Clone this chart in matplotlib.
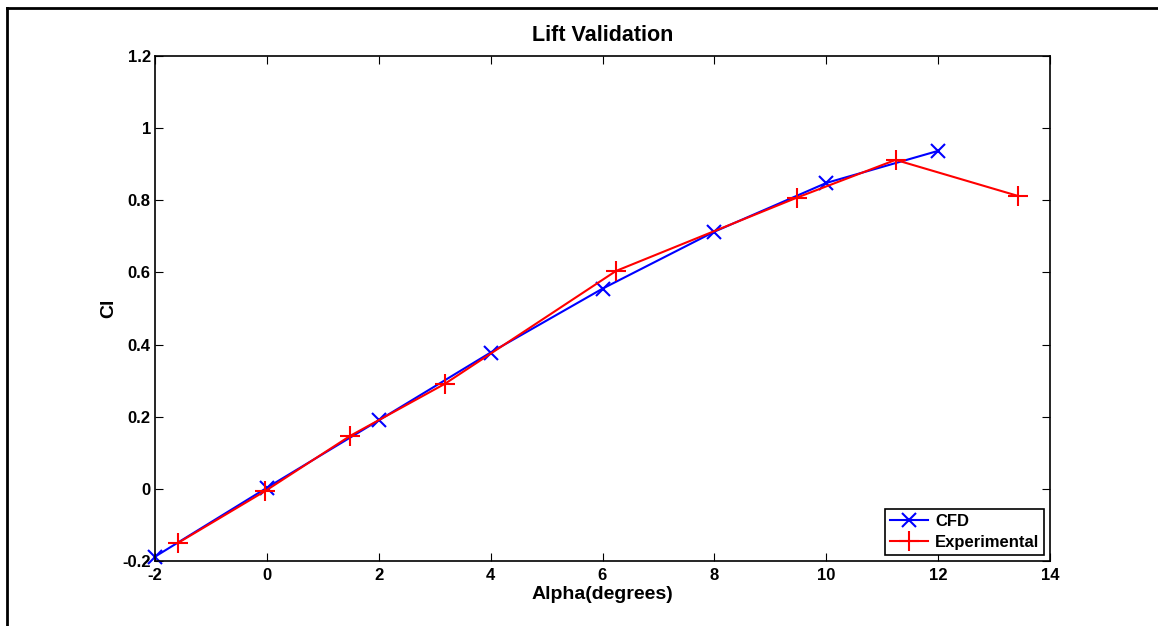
import matplotlib
matplotlib.use("Agg")
import matplotlib.pyplot as plt
from matplotlib.lines import Line2D

plt.rcParams['font.family'] = ['Liberation Sans', 'DejaVu Sans']
plt.rcParams['font.weight'] = 'bold'

# CFD results
alpha_cfd = [-2, 0, 2, 4, 6, 8, 10, 12]
cl_cfd = [-0.188, 0.003, 0.19, 0.378, 0.555, 0.713, 0.848, 0.937]

# experimental data
alpha_exp = [-1.59, -0.03, 1.49, 3.18, 6.24, 9.47, 11.24, 13.43]
cl_exp = [-0.15, -0.006, 0.147, 0.291, 0.604, 0.807, 0.912, 0.812]

xticks = [-2, 0, 2, 4, 6, 8, 10, 12, 14]
yticks = [-0.2, 0, 0.2, 0.4, 0.6, 0.8, 1, 1.2]
ytick_labels = ['-0.2', '0', '0.2', '0.4', '0.6', '0.8', '1', '1.2']

W, H = 1158, 626
fig = plt.figure(figsize=(W / 100, H / 100), dpi=100)
ax = fig.add_axes([155 / W, 1 - 561 / H, (1050 - 155) / W, (561 - 56) / H])

ax.plot(alpha_cfd, cl_cfd, color='b', marker='x', markersize=10, lw=1.5,
        mew=1.5, label='CFD', clip_on=False)
ax.plot(alpha_exp, cl_exp, color='r', marker='+', markersize=14, lw=1.5,
        mew=1.5, label='Experimental', clip_on=False)

ax.set_xlim(-2, 14)
ax.set_ylim(-0.2, 1.2)
ax.set_xticks(xticks)
ax.set_xticklabels([str(t) for t in xticks])
ax.set_yticks(yticks)
ax.set_yticklabels(ytick_labels)
ax.tick_params(direction='in', length=6, width=0.8, top=True, right=True,
               labelsize=12, pad=3)
ax.tick_params(axis='x', pad=5)
for s in ax.spines.values():
    s.set_linewidth(1.2)

ax.set_title('Lift Validation', fontsize=15.5, fontweight='bold', pad=11)
ax.set_xlabel('Alpha(degrees)', fontsize=14, fontweight='bold', labelpad=2)
ax.set_ylabel('Cl', fontsize=14, fontweight='bold', labelpad=4)

leg = ax.legend(loc='lower right', fontsize=12, fancybox=False,
                framealpha=1, edgecolor='k', handlelength=2.3,
                borderaxespad=0.35, borderpad=0.3, labelspacing=0.4,
                handletextpad=0.4)
leg.get_frame().set_linewidth(1.2)
for t in leg.get_texts():
    t.set_fontweight('bold')

# outer frame, cut off at right and bottom
fig.add_artist(Line2D([7 / W, 1], [1 - 8 / H, 1 - 8 / H], color='k', lw=2,
                      transform=fig.transFigure))
fig.add_artist(Line2D([7 / W, 7 / W], [0, 1 - 8 / H], color='k', lw=2,
                      transform=fig.transFigure))

fig.savefig('out.png', dpi=100)
